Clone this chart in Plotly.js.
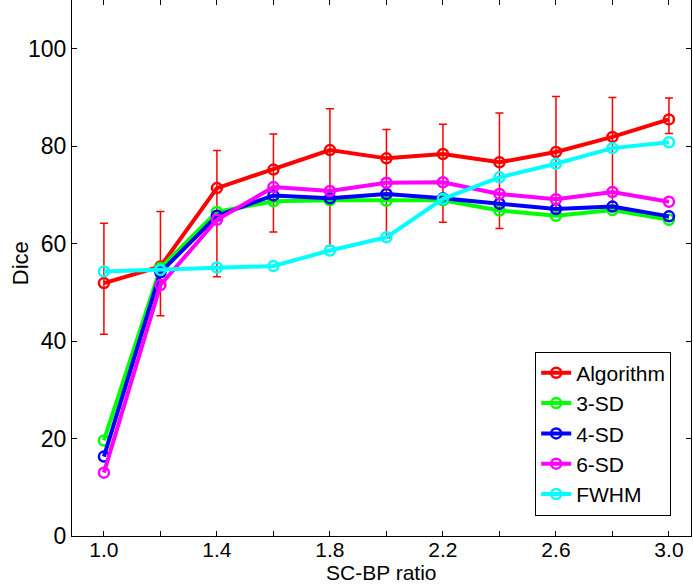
<!DOCTYPE html>
<html>
<head>
<meta charset="utf-8">
<script src="https://cdn.plot.ly/plotly-3.0.1.min.js"></script>
<style>html,body{margin:0;padding:0;background:#fff;}#chart{width:693px;height:586px;}</style>
</head>
<body>
<div id="chart"></div>
<script>
// ---- data ----
var ratios = [1.0, 1.2, 1.4, 1.6, 1.8, 2.0, 2.2, 2.4, 2.6, 2.8, 3.0];
var algorithm   = [51.9, 55.3, 71.4, 75.2, 79.2, 77.5, 78.4, 76.7, 78.8, 81.9, 85.5];
var algErrPlus  = [12.3, 11.3, 7.7, 7.3, 8.5, 5.9, 6.1, 10.1, 11.4, 8.1, 4.4];
var algErrMinus = [10.5, 10.1, 18.2, 12.8, 19.7, 16.3, 14.0, 13.6, 12.9, 14.3, 2.9];
var sd3  = [19.6, 55.0, 66.5, 68.7, 68.9, 68.8, 68.9, 66.8, 65.7, 66.9, 64.9];
var sd4  = [16.3, 54.1, 65.7, 69.9, 69.3, 70.2, 69.3, 68.2, 67.1, 67.6, 65.6];
var sd6  = [13.0, 51.5, 64.9, 71.6, 70.8, 72.5, 72.6, 70.2, 69.1, 70.6, 68.6];
var fwhm = [54.3, 54.6, 55.1, 55.4, 58.6, 61.3, 69.2, 73.6, 76.4, 79.6, 80.8];
var seriesNames = ["Algorithm", "3-SD", "4-SD", "6-SD", "FWHM"];
var xTickVals = [1.0, 1.2, 1.4, 1.6, 1.8, 2.0, 2.2, 2.4, 2.6, 2.8, 3.0];
var xTickText = ["1.0", "", "1.4", "", "1.8", "", "2.2", "", "2.6", "", "3.0"];
var yTickVals = [0, 20, 40, 60, 80, 100];
var xTitle = "SC-BP ratio";
var yTitle = "Dice";

var colors = ["#ff0000", "#00ff00", "#0000ff", "#ff00ff", "#00ffff"];
var ys = [algorithm, sd3, sd4, sd6, fwhm];

var traces = ys.map(function (y, i) {
  var t = {
    x: ratios, y: y, name: seriesNames[i], type: "scatter", mode: "lines+markers",
    line: {color: colors[i], width: 4},
    marker: {symbol: "circle-open", size: 10, color: colors[i], line: {width: 2.5, color: colors[i]}}
  };
  if (i === 0) {
    t.error_y = {type: "data", symmetric: false, array: algErrPlus, arrayminus: algErrMinus,
                 color: "#ff0000", thickness: 1.5, width: 4};
  }
  return t;
});

var font = "Arial, 'Liberation Sans', sans-serif";
var fs = 22;
var layout = {
  width: 693, height: 586,
  margin: {l: 72, r: 2, t: 0, b: 50},
  paper_bgcolor: "#fff", plot_bgcolor: "#fff",
  font: {family: font, size: fs, color: "#000"},
  showlegend: true,
  legend: {x: 0.968, y: 0.038, xanchor: "right", yanchor: "bottom",
           bordercolor: "#000", borderwidth: 1, bgcolor: "#fff",
           font: {family: font, size: 21, color: "#000"}, itemwidth: 30, tracegroupgap: 0},
  xaxis: {
    range: [0.887, 3.078], tickvals: xTickVals, ticktext: xTickText,
    ticks: "inside", ticklen: 5, tickwidth: 1, tickcolor: "#000",
    showline: true, linecolor: "#000", linewidth: 1, mirror: "ticks",
    showgrid: false, zeroline: false, ticklabelstandoff: -5,
    tickfont: {family: font, size: 21, color: "#000"}
  },
  yaxis: {
    range: [0, 110], tickvals: yTickVals,
    ticks: "inside", ticklen: 5, tickwidth: 1, tickcolor: "#000",
    showline: true, linecolor: "#000", linewidth: 1, mirror: "ticks",
    showgrid: false, zeroline: false,
    tickfont: {family: font, size: fs + 1, color: "#000"}
  },
  annotations: [{
    text: xTitle, xref: "paper", yref: "paper", x: 0.5, y: 0, yshift: -50,
    xanchor: "center", yanchor: "bottom", showarrow: false,
    font: {family: font, size: 21, color: "#000"}
  }, {
    text: yTitle, xref: "paper", yref: "paper", x: 0, y: 0.509, xshift: -52,
    xanchor: "center", yanchor: "middle", textangle: -90, showarrow: false,
    font: {family: font, size: fs, color: "#000"}
  }]
};

Plotly.newPlot("chart", traces, layout, {displayModeBar: false, staticPlot: true});
</script>
</body>
</html>
